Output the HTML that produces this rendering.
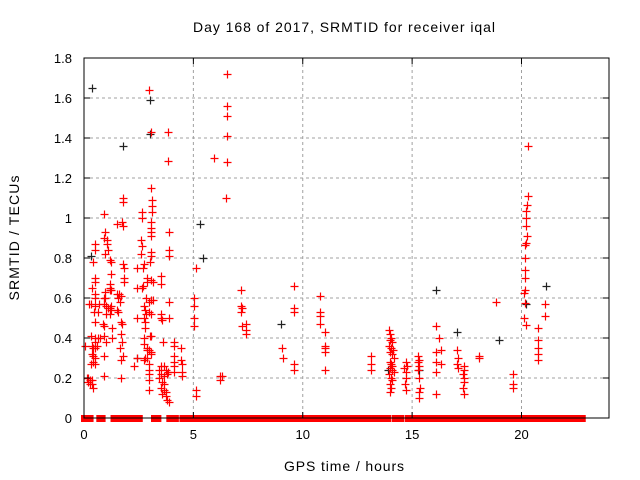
<!DOCTYPE html>
<html><head><meta charset="utf-8"><style>
html,body{margin:0;padding:0;background:#fff;}
svg{display:block;font-family:"Liberation Sans",sans-serif;}
</style></head><body>
<svg id="chart" width="640" height="480" viewBox="0 0 640 480">
<text x="344" y="32" font-size="14" text-anchor="middle" textLength="302" lengthAdjust="spacing">Day 168 of 2017, SRMTID for receiver iqal</text>
<text x="344" y="471" font-size="14" text-anchor="middle" textLength="120" lengthAdjust="spacing">GPS time / hours</text>
<text x="19" y="238" font-size="14" text-anchor="middle" textLength="125" lengthAdjust="spacing" transform="rotate(-90 19 238)">SRMTID / TECUs</text>
<g id="grid"></g>
<g id="baseline"></g>
<g id="points"></g>
<g id="axes"></g>
</svg>
<script>
const xTicks=[0,5,10,15,20];
const yTicks=[0,0.2,0.4,0.6,0.8,1,1.2,1.4,1.6,1.8];
const yTickLabels=["0","0.2","0.4","0.6","0.8","1","1.2","1.4","1.6","1.8"];
const zeroRanges=[[0,0.3],[0.7,0.85],[1.35,1.55],[1.8,2.55],[3.2,3.4],[3.9,4.2],[4.5,6.45],[6.5,7.15],[7.2,13.9],[14.2,14.5],[14.8,15.2],[15.3,16.1],[16.2,16.3],[16.4,17.3],[17.5,20.1],[20.3,22.8]];
const redPoints=[
[2.98,1.64],[3.05,1.43],[3.86,1.43],[3.86,1.285],[5.96,1.3],[3.08,1.15],[1.8,1.1],[1.8,1.08],[3.1,1.09],[3.1,1.06],[3.1,1.03],[0.93,1.02],[2.65,1.03],[2.65,1.0],[1.5,0.97],[1.74,0.98],[1.78,0.96],[3.07,0.98],[3.07,0.95],[3.07,0.93],[3.07,0.91],[3.88,0.93],
[0.95,0.93],[0.93,0.9],[1.05,0.89],[1.05,0.87],[1.08,0.84],[0.98,0.82],[0.5,0.87],[0.52,0.84],[0.4,0.78],[2.6,0.89],[2.65,0.86],[2.6,0.82],[3.05,0.83],[3.07,0.81],[3.03,0.78],[3.88,0.84],[3.88,0.81],[1.2,0.79],[1.25,0.78],[1.8,0.77],[1.83,0.75],[2.4,0.75],[2.7,0.75],[2.75,0.77],[5.1,0.75],[3.5,0.71],
[0.5,0.7],[0.52,0.68],[1.25,0.72],[1.2,0.67],[1.18,0.64],[0.35,0.65],[1.85,0.7],[1.85,0.68],[2.9,0.7],[2.9,0.68],[3.07,0.69],[3.15,0.68],[3.5,0.67],[2.4,0.65],[2.65,0.65],[2.7,0.66],[0.5,0.62],[0.5,0.6],[0.95,0.63],[0.98,0.6],[0.9,0.6],[1.2,0.65],[1.22,0.64],[1.5,0.62],[1.6,0.62],[1.57,0.6],[1.7,0.61],[1.63,0.58],[2.85,0.6],[2.95,0.58],[3.05,0.59],[3.15,0.59],[3.9,0.58],[5.03,0.6],[5.03,0.56],
[0.3,0.57],[0.25,0.57],[0.5,0.56],[0.7,0.57],[0.9,0.57],[1.0,0.56],[1.1,0.55],[1.18,0.55],[1.25,0.56],[0.45,0.53],[0.65,0.53],[1.0,0.52],[1.18,0.52],[1.25,0.54],[1.5,0.54],[1.57,0.53],[2.75,0.56],[2.8,0.54],[2.85,0.52],[2.98,0.53],[3.05,0.52],[2.4,0.5],[2.75,0.5],[2.8,0.48],[3.5,0.52],[3.5,0.5],[3.57,0.49],[3.88,0.5],[1.7,0.48],[1.73,0.47],[5.03,0.5],[5.03,0.46],[0.5,0.48],[0.87,0.47],[0.93,0.46],[1.28,0.45],[2.8,0.45],
[0.3,0.41],[0.5,0.4],[0.62,0.4],[0.72,0.4],[0.9,0.41],[1.28,0.4],[1.7,0.42],[2.75,0.4],[3.0,0.41],[3.07,0.41],[0.5,0.38],[0.05,0.36],[0.35,0.36],[0.42,0.35],[0.52,0.35],[0.6,0.36],[1.0,0.38],[1.75,0.38],[1.65,0.35],[2.75,0.37],[2.9,0.35],[2.9,0.34],[2.98,0.34],[3.05,0.33],[3.6,0.38],[4.1,0.38],[4.1,0.36],[4.45,0.35],
[0.35,0.32],[0.42,0.31],[0.52,0.3],[0.92,0.31],[1.78,0.31],[2.8,0.3],[2.75,0.29],[2.4,0.3],[3.05,0.32],[4.1,0.31],[4.1,0.28],[4.45,0.29],[4.5,0.27],[0.3,0.27],[0.42,0.28],[0.5,0.27],[1.68,0.29],[2.3,0.26],[2.9,0.3],[2.98,0.27],[2.98,0.24],[2.98,0.22],[2.98,0.19],[2.98,0.14],
[3.5,0.26],[3.65,0.26],[3.73,0.24],[3.83,0.23],[3.42,0.24],[3.5,0.22],[3.65,0.21],[3.42,0.2],[3.8,0.22],[4.1,0.26],[4.1,0.23],[4.5,0.23],[4.5,0.21],[0.9,0.21],[1.68,0.2],[0.2,0.2],[0.27,0.19],[0.2,0.18],[0.27,0.17],[0.35,0.17],[0.42,0.15],[0.35,0.19],[0.15,0.2],
[3.57,0.18],[3.65,0.17],[3.5,0.15],[3.65,0.14],[3.73,0.13],[3.57,0.12],[3.73,0.11],[3.8,0.09],[3.88,0.08],[5.13,0.14],[5.13,0.11],[6.3,0.21],
[6.52,1.72],[6.52,1.56],[6.52,1.51],[6.52,1.41],[6.52,1.28],[6.48,1.1],[7.16,0.64],[7.16,0.56],[7.2,0.55],[7.16,0.53],[7.2,0.46],[7.42,0.47],[7.42,0.44],[7.42,0.42],[6.2,0.21],[6.2,0.19],
[9.6,0.66],[9.6,0.55],[9.6,0.53],[9.05,0.35],[9.08,0.3],[9.6,0.27],[9.6,0.24],[10.8,0.61],[10.8,0.53],[10.78,0.51],[10.78,0.47],[11.0,0.43],[11.0,0.36],[11.0,0.35],[11.0,0.33],[11.0,0.24],[13.1,0.31],[13.1,0.27],[13.1,0.24],
[13.95,0.44],[14.0,0.42],[14.05,0.4],[13.98,0.39],[14.1,0.38],[13.95,0.36],[14.05,0.35],[14.12,0.34],[14.0,0.33],[14.08,0.32],[14.15,0.3],[13.98,0.28],[14.05,0.27],[14.1,0.26],[14.0,0.25],[14.08,0.24],[14.15,0.23],[13.95,0.22],[14.05,0.2],[14.1,0.19],[14.0,0.17],[14.05,0.15],[13.98,0.13],
[14.7,0.28],[14.75,0.26],[14.65,0.25],[14.72,0.23],[14.7,0.2],[14.68,0.17],[14.72,0.14],[15.25,0.31],[15.3,0.29],[15.25,0.28],[15.32,0.26],[15.25,0.24],[15.3,0.2],[15.35,0.15],[15.3,0.13],[15.32,0.1],
[16.1,0.46],[16.25,0.4],[16.3,0.34],[16.1,0.33],[16.1,0.28],[16.3,0.27],[16.1,0.23],[16.1,0.12],[17.05,0.34],[17.08,0.3],[17.05,0.27],[17.08,0.25],[17.35,0.26],[17.38,0.24],[17.32,0.22],[17.38,0.2],[17.35,0.18],[17.32,0.15],[17.35,0.12],[18.05,0.31],[18.05,0.3],[18.85,0.58],[19.6,0.22],[19.6,0.17],[19.6,0.15],
[20.3,1.36],[20.3,1.11],[20.25,1.065],[20.22,1.035],[20.2,1.0],[20.22,0.96],[20.25,0.91],[20.2,0.875],[20.18,0.865],[20.15,0.8],[20.15,0.74],[20.18,0.7],[20.15,0.64],[20.12,0.625],[20.18,0.575],[20.12,0.5],[20.2,0.465],[21.07,0.57],[21.07,0.51],[20.75,0.45],[20.75,0.39],[20.75,0.35],[20.75,0.32],[20.75,0.29]
];
const blackPoints=[[0.35,1.65],[1.77,1.36],[3.02,1.59],[3.02,1.42],[5.3,0.97],[5.45,0.8],[9.0,0.47],[16.1,0.64],[17.05,0.43],[18.95,0.39],[21.1,0.66],[20.2,0.57],[13.9,0.24],[15.3,0.24],[2.4,0.3],[0.3,0.81]];

const L=84,R=609,T=58,B=418,XMAX=24,YMAX=1.8;
const xs=h=>L+(R-L)*h/XMAX;
const ys=v=>B-(B-T)*v/YMAX;
const NS="http://www.w3.org/2000/svg";
function mk(tag,attrs,parent){const e=document.createElementNS(NS,tag);for(const k in attrs)e.setAttribute(k,attrs[k]);parent.appendChild(e);return e;}
const grid=document.getElementById('grid'),axes=document.getElementById('axes'),pts=document.getElementById('points'),base=document.getElementById('baseline');
xTicks.forEach((t,i)=>{const x=xs(t);
 if(t>0){const g=mk('line',{x1:x,x2:x,y1:T,y2:B,stroke:'#a0a0a0','stroke-dasharray':'3,3','stroke-width':1},grid);
 
 }
 mk('line',{x1:x,x2:x,y1:B,y2:B-6,stroke:'#000'},axes);
 mk('line',{x1:x,x2:x,y1:T,y2:T+6,stroke:'#000'},axes);
 const tx=mk('text',{x:x,y:B+21,'font-size':13,'text-anchor':'middle'},axes);tx.textContent=String(t);
 
 
});
yTicks.forEach((t,i)=>{const y=ys(t);
 if(t>0&&t<YMAX){const g=mk('line',{x1:L,x2:R,y1:y,y2:y,stroke:'#a0a0a0','stroke-dasharray':'3,3','stroke-width':1},grid);
 
 }
 mk('line',{x1:L,x2:L+6,y1:y,y2:y,stroke:'#000'},axes);
 mk('line',{x1:R,x2:R-6,y1:y,y2:y,stroke:'#000'},axes);
 const tx=mk('text',{x:L-12,y:y+5,'font-size':13,'text-anchor':'end'},axes);tx.textContent=yTickLabels[i];
 
 
});
const fr=mk('rect',{x:L,y:T,width:R-L,height:B-T,fill:'none',stroke:'#000','stroke-width':1},axes);


zeroRanges.forEach(r=>{const x1=xs(r[0])-3,x2=xs(r[1])+3;
 const b=mk('rect',{x:x1,y:ys(0)-3,width:x2-x1,height:7,fill:'#ff0000'},base);
 
 
});
function plus(h,v,color){const x=Math.round(xs(h))+0.5,y=Math.round(ys(v))+0.5;
 const p=mk('path',{d:`M${x-4} ${y}H${x+4}M${x} ${y-4}V${y+4}`,stroke:color,'stroke-width':1.2,fill:'none'},pts);
 return p;}
blackPoints.forEach(p=>{const e=plus(p[0],p[1],'#222');
 
 });
redPoints.forEach(p=>{const e=plus(p[0],p[1],'#ff0000');
 
 });
</script>
</body></html>
